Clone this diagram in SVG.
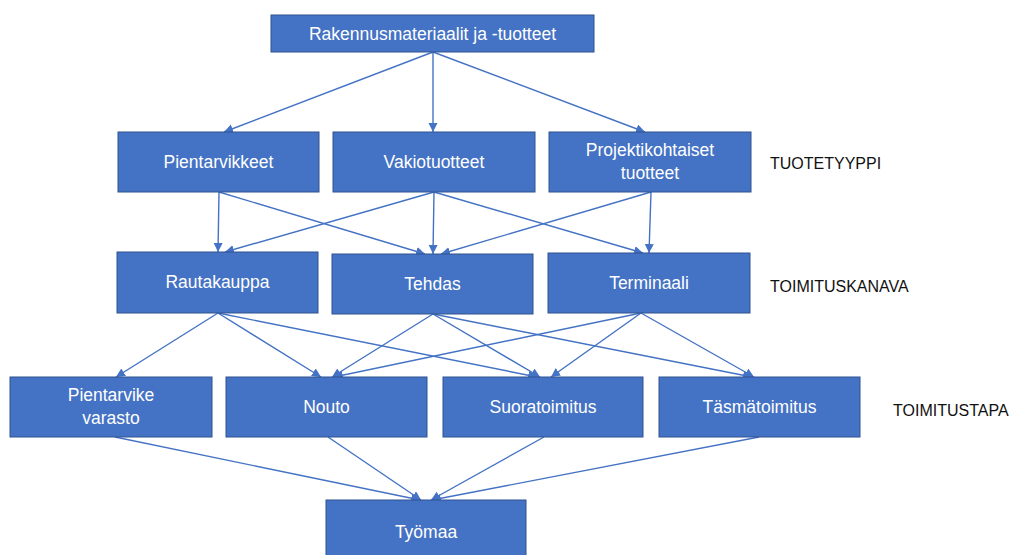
<svg xmlns="http://www.w3.org/2000/svg" width="1016" height="555" viewBox="0 0 1016 555">
<style>
.box{fill:#4472C4;stroke:#2F528F;stroke-width:1}
.t{fill:#fff;font-family:"Liberation Sans",Arial,sans-serif;font-size:17.5px;text-anchor:middle}
.lab{fill:#111;font-family:"Liberation Sans",Arial,sans-serif;font-size:16px}
.c{stroke:#4472C4;stroke-width:1.4;fill:none;marker-end:url(#ah)}
</style>
<defs>
<marker id="ah" markerUnits="userSpaceOnUse" markerWidth="12" markerHeight="12" refX="9" refY="4.5" orient="auto">
<path d="M0,0 L9,4.5 L0,9 Z" fill="#4472C4"/>
</marker>
</defs>
<rect width="1016" height="555" fill="#fff"/>
<g id="connectors">
<line class="c" x1="433" y1="52" x2="224" y2="132"/>
<line class="c" x1="433" y1="52" x2="433" y2="132"/>
<line class="c" x1="433" y1="52" x2="645" y2="132"/>
<line class="c" x1="219" y1="192" x2="218" y2="252"/>
<line class="c" x1="219" y1="192" x2="425" y2="254"/>
<line class="c" x1="434" y1="192" x2="225" y2="252"/>
<line class="c" x1="434" y1="192" x2="433" y2="254"/>
<line class="c" x1="434" y1="192" x2="643" y2="253"/>
<line class="c" x1="651" y1="192" x2="441" y2="254"/>
<line class="c" x1="651" y1="192" x2="649" y2="253"/>
<line class="c" x1="218" y1="313" x2="116" y2="377"/>
<line class="c" x1="218" y1="313" x2="321" y2="377"/>
<line class="c" x1="218" y1="313" x2="537" y2="377"/>
<line class="c" x1="433" y1="314" x2="332" y2="377"/>
<line class="c" x1="433" y1="314" x2="540" y2="377"/>
<line class="c" x1="433" y1="314" x2="752" y2="377"/>
<line class="c" x1="641" y1="313" x2="334" y2="377"/>
<line class="c" x1="641" y1="313" x2="551" y2="377"/>
<line class="c" x1="641" y1="313" x2="754" y2="377"/>
<line class="c" x1="115" y1="437" x2="420" y2="500"/>
<line class="c" x1="328" y1="437" x2="421" y2="500"/>
<line class="c" x1="544" y1="437" x2="431" y2="500"/>
<line class="c" x1="759" y1="437" x2="432" y2="500"/>
</g>
<g id="n-root"><rect class="box" x="271" y="15" width="323" height="37"/><text class="t" x="432.5" y="40">Rakennusmateriaalit ja -tuotteet</text></g>
<g id="n-pientarvikkeet"><rect class="box" x="118" y="132" width="201" height="60"/><text class="t" x="218.5" y="168">Pientarvikkeet</text></g>
<g id="n-vakiotuotteet"><rect class="box" x="333" y="132" width="202" height="60"/><text class="t" x="434" y="168">Vakiotuotteet</text></g>
<g id="n-projektikohtaiset"><rect class="box" x="549" y="132" width="202" height="60"/><text class="t" x="650" y="156">Projektikohtaiset</text><text class="t" x="650" y="179">tuotteet</text></g>
<g id="n-rautakauppa"><rect class="box" x="117" y="252" width="201" height="61"/><text class="t" x="217.5" y="288">Rautakauppa</text></g>
<g id="n-tehdas"><rect class="box" x="332" y="254" width="201" height="60"/><text class="t" x="432.5" y="290">Tehdas</text></g>
<g id="n-terminaali"><rect class="box" x="548" y="253" width="202" height="60"/><text class="t" x="649" y="289">Terminaali</text></g>
<g id="n-pientarvikevarasto"><rect class="box" x="10" y="377" width="202" height="60"/><text class="t" x="111" y="401">Pientarvike</text><text class="t" x="111" y="424">varasto</text></g>
<g id="n-nouto"><rect class="box" x="226" y="377" width="201" height="60"/><text class="t" x="326.5" y="413">Nouto</text></g>
<g id="n-suoratoimitus"><rect class="box" x="443" y="377" width="200" height="60"/><text class="t" x="543" y="413">Suoratoimitus</text></g>
<g id="n-tasmatoimitus"><rect class="box" x="659" y="377" width="201" height="60"/><text class="t" x="759.5" y="413">Täsmätoimitus</text></g>
<g id="n-tyomaa"><rect class="box" x="326" y="500" width="200" height="60"/><text class="t" x="426" y="538">Työmaa</text></g>
<g id="labels">
<text class="lab" x="770" y="169">TUOTETYYPPI</text>
<text class="lab" x="770" y="292">TOIMITUSKANAVA</text>
<text class="lab" x="893" y="416">TOIMITUSTAPA</text>
</g>
</svg>
